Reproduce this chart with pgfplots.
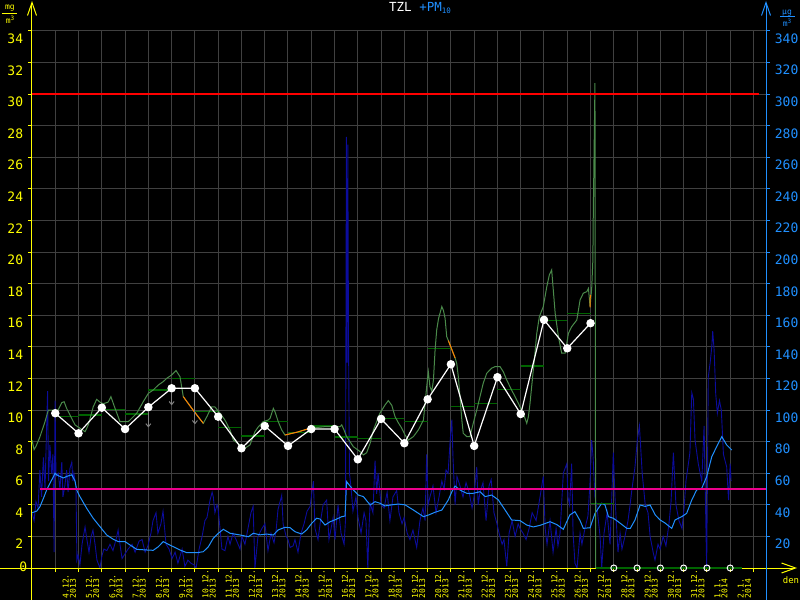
\documentclass[border=0pt]{standalone}
\usepackage{fontspec}
\usepackage{pgfplots}
\pgfplotsset{compat=1.18}
\usetikzlibrary{arrows.meta}
\newfontfamily\pix{DejaVu Sans Mono}

\definecolor{ylw}{HTML}{FFFF00}
\definecolor{pmblue}{HTML}{2090FF}
\definecolor{pmdark}{HTML}{0C0C9C}
\definecolor{tzlgreen}{HTML}{4A8A4A}
\definecolor{daygreen}{HTML}{006400}
\definecolor{gridc}{HTML}{404040}
\definecolor{orng}{HTML}{FF8000}
\definecolor{arrgray}{HTML}{808080}

\pgfplotsset{
  chartbase/.style={
    at={(0pt,0pt)}, anchor=south west,
    scale only axis, width=734pt, height=537pt,
    xmin=0, xmax=31.54,
    axis line style={draw=none},
    tick align=outside, major tick length=4pt,
    every tick/.append style={line width=1pt},
    /pgf/number format/assume math mode=true,
    tick label style={font=\pix\fontsize{13}{13}\selectfont, inner sep=0pt},
  },
}

\begin{document}
\begin{tikzpicture}
\fill[black] (-32pt,-32pt) rectangle (768pt,568pt);

% PM10 axis (right, ug/m3)
\begin{axis}[chartbase,
  ymin=0, ymax=340,
  xtick={1,...,31}, xticklabels={}, xtick pos=left,
  ytick={20,40,...,340}, ytick pos=right, yticklabel pos=right,
  grid=major, major grid style={gridc, line width=1pt},
  x tick style={ylw}, y tick style={pmblue},
  yticklabel style={text=pmblue, anchor=north west, xshift=4.7pt, yshift=-2.5pt},
  extra x ticks={1.5,2.5,...,30.5},
  extra x tick labels={4.12.\\2013,5.12.\\2013,6.12.\\2013,7.12.\\2013,8.12.\\2013,9.12.\\2013,10.12.\\2013,11.12.\\2013,12.12.\\2013,13.12.\\2013,14.12.\\2013,15.12.\\2013,16.12.\\2013,17.12.\\2013,18.12.\\2013,19.12.\\2013,20.12.\\2013,21.12.\\2013,22.12.\\2013,23.12.\\2013,24.12.\\2013,25.12.\\2013,26.12.\\2013,27.12.\\2013,28.12.\\2013,29.12.\\2013,30.12.\\2013,31.12.\\2013,1.1.\\2014,2.1.\\2014},
  extra x tick style={grid=none, major tick length=0pt,
    xticklabel style={xshift=2.5pt, yshift=-30.5pt, rotate=90, anchor=west, align=left, text=ylw, font=\pix\fontsize{8}{7.2}\selectfont}},
]
% PM10 raw
\addplot[pmdark, line width=0.9pt] coordinates {
(0.00,35) (0.09,30) (0.17,42) (0.26,38) (0.34,62) (0.41,45) (0.49,70) (0.56,50) (0.63,90) (0.67,112)
(0.71,55) (0.77,78) (0.84,60) (0.90,72) (0.95,10) (0.99,106) (1.03,58) (1.13,60) (1.20,50) (1.28,67)
(1.33,45) (1.42,53) (1.49,62) (1.55,48) (1.63,63) (1.71,67) (1.76,55) (1.80,60) (1.89,51) (1.93,5)
(1.98,8) (2.06,2) (2.15,15) (2.28,26) (2.36,18) (2.45,10) (2.54,20) (2.62,24) (2.71,15) (2.79,5)
(2.92,0) (3.01,8) (3.09,12) (3.22,11) (3.35,15) (3.48,11) (3.61,18) (3.70,24) (3.78,15) (3.87,6)
(4.00,9) (4.13,12) (4.30,15) (4.43,10) (4.60,17) (4.73,18) (4.86,10) (4.98,14) (5.11,22) (5.20,30)
(5.33,35) (5.41,22) (5.54,28) (5.63,36) (5.76,15) (5.89,12) (6.02,6) (6.15,10) (6.27,3) (6.45,12)
(6.57,1) (6.70,5) (6.83,3) (6.96,2) (7.05,0) (7.18,12) (7.31,20) (7.43,30) (7.52,32) (7.65,43)
(7.74,48) (7.79,45) (7.86,35) (7.95,40) (7.99,38) (8.08,25) (8.16,12) (8.29,11) (8.42,20) (8.51,15)
(8.64,22) (8.77,18) (8.94,12) (9.02,20) (9.15,15) (9.28,25) (9.41,35) (9.50,39) (9.58,0) (9.71,20)
(9.88,25) (10.01,28) (10.14,11) (10.27,22) (10.40,16) (10.49,24) (10.57,37) (10.73,46) (10.79,28) (10.92,20)
(11.00,18) (11.09,13) (11.22,14) (11.30,18) (11.43,10) (11.56,22) (11.69,28) (11.82,36) (11.95,39) (12.09,55)
(12.16,25) (12.29,18) (12.38,28) (12.51,40) (12.66,43) (12.76,18) (12.94,32) (13.02,18) (13.15,40) (13.28,22)
(13.41,15) (13.47,30) (13.51,273) (13.54,130) (13.57,268) (13.60,146) (13.64,60) (13.71,51) (13.79,36) (13.92,45)
(14.01,32) (14.14,22) (14.27,35) (14.35,30) (14.43,0) (14.48,25) (14.53,41) (14.65,35) (14.74,68) (14.81,47)
(14.87,60) (15.00,40) (15.13,38) (15.26,48) (15.38,30) (15.51,45) (15.67,49) (15.77,35) (15.90,28) (15.99,32)
(16.12,22) (16.24,18) (16.37,24) (16.53,13) (16.67,30) (16.80,38) (16.89,30) (16.96,72) (17.02,40) (17.10,45)
(17.23,52) (17.36,35) (17.49,45) (17.61,55) (17.71,50) (17.79,62) (17.88,60) (17.96,79) (18.04,94) (18.09,70)
(18.18,40) (18.26,58) (18.39,52) (18.52,45) (18.65,54) (18.78,48) (18.91,38) (18.99,45) (19.11,64) (19.17,40)
(19.25,48) (19.38,54) (19.51,30) (19.64,52) (19.73,56) (19.85,35) (19.98,28) (20.07,22) (20.20,15) (20.28,18)
(20.40,1) (20.50,22) (20.63,30) (20.76,20) (20.89,28) (20.97,25) (21.10,22) (21.23,18) (21.36,25) (21.49,35)
(21.66,30) (21.83,45) (21.97,58) (22.05,25) (22.13,15) (22.26,30) (22.39,10) (22.52,25) (22.60,14) (22.69,22)
(22.83,60) (22.98,66) (23.03,45) (23.10,40) (23.19,66) (23.25,22) (23.33,3) (23.42,0) (23.55,22) (23.63,15)
(23.76,25) (23.89,33) (23.98,55) (24.05,81) (24.11,70) (24.19,45) (24.28,38) (24.41,20) (24.48,0) (24.58,22)
(24.71,35) (24.84,15) (24.98,73) (25.05,45) (25.18,10) (25.27,22) (25.35,12) (25.48,20) (25.61,30) (25.70,40)
(25.78,50) (25.91,64) (26.01,81) (26.10,90) (26.22,60) (26.35,40) (26.47,35) (26.56,20) (26.69,10) (26.77,5)
(26.90,15) (26.99,12) (27.12,20) (27.24,14) (27.37,28) (27.46,42) (27.56,73) (27.67,40) (27.80,30) (27.93,25)
(28.02,38) (28.10,55) (28.27,73) (28.35,111) (28.42,107) (28.49,81) (28.63,66) (28.78,55) (28.88,90) (28.99,0)
(29.06,121) (29.14,130) (29.21,140) (29.25,150) (29.31,138) (29.38,110) (29.45,98) (29.54,106) (29.62,100) (29.71,72)
(29.78,68) (29.85,64) (29.93,43) (30.00,66) (30.04,55)
};
% PM10 smoothed
\addplot[pmblue, line width=1pt] coordinates {
(0,35) (0.2,36) (0.34,38.8) (0.49,44.1) (0.63,49.4) (0.77,53.6) (0.92,57.8) (0.99,60) (1.06,59) (1.2,58)
(1.35,57) (1.49,58) (1.71,59) (1.85,55) (1.92,49.4) (2.06,45.2) (2.35,37.8) (2.63,31.5) (2.92,26.2) (3.21,20.9)
(3.49,18.2) (3.71,16.7) (4.0,16.7) (4.21,14.6) (4.5,11.8) (4.93,11.4) (5.21,11.2) (5.43,13.5) (5.64,16.7) (5.86,15)
(6.07,13.5) (6.36,11.4) (6.65,9.7) (7.08,9.7) (7.36,10.3) (7.58,13.5) (7.79,18.8) (8.01,22) (8.22,24.5) (8.51,22)
(8.94,20.9) (9.3,19.8) (9.51,22) (9.8,21) (10.09,21.5) (10.37,20.9) (10.58,24.1) (10.87,25.8) (11.09,25.5) (11.3,23)
(11.59,21.5) (11.8,24.1) (12.02,28.3) (12.23,31.5) (12.38,31) (12.59,27.2) (12.81,29.3) (13.02,30.5) (13.31,32.5) (13.45,32.9)
(13.52,54.7) (13.66,52) (13.81,49.4) (14.02,46.2) (14.24,45.2) (14.53,39.9) (14.74,42) (14.95,41) (15.17,39.3) (15.46,40)
(15.74,40.5) (16.03,40) (16.39,36.7) (16.82,32.5) (17.03,33.5) (17.32,35.3) (17.61,36.7) (17.89,43.1) (18.04,48.3) (18.18,51.9)
(18.39,49.4) (18.68,47.3) (18.96,47.3) (19.25,48.3) (19.47,45.2) (19.75,46.2) (20.04,43.1) (20.33,36.7) (20.61,30.4) (20.97,30)
(21.26,27.2) (21.54,26) (21.83,27) (22.26,29.3) (22.55,27.5) (22.83,24.5) (23.11,33.6) (23.33,35.7) (23.55,30) (23.69,25.1)
(23.98,25.5) (24.19,34.6) (24.48,41) (24.62,40) (24.77,32.5) (24.98,31.5) (25.19,29.3) (25.56,25.1) (25.71,25.1) (25.91,30.4)
(26.13,39.9) (26.35,39) (26.56,39.9) (26.78,33.6) (26.99,30.4) (27.2,28.5) (27.49,25.1) (27.63,30.4) (27.92,32.5) (28.13,34.6)
(28.35,43.1) (28.56,49.4) (28.78,50.5) (28.99,57.8) (29.21,70.5) (29.42,76.8) (29.64,83.2) (29.85,77.9) (30.07,74.7)
};
\end{axis}

% TZL axis (left, mg/m3)
\begin{axis}[chartbase,
  ymin=0, ymax=34, clip=false,
  xtick=\empty, ytick={2,4,...,34}, ytick pos=left,
  y tick style={ylw},
  yticklabel style={text=ylw, anchor=north east, xshift=-4.7pt, yshift=-2.7pt},
]
% axis lines
\draw[ylw, line width=1pt, -{Straight Barb[length=13pt,width=9pt]}]
  ([yshift=-32pt]rel axis cs:0,0) -- ([yshift=30pt]rel axis cs:0,1);
\draw[ylw, line width=1pt, -{Straight Barb[length=14pt,width=10pt]}]
  ([xshift=-32pt]rel axis cs:0,0) -- ([xshift=31pt]rel axis cs:1,0);
\draw[pmblue, line width=1pt, -{Straight Barb[length=13pt,width=9pt]}]
  ([yshift=-32pt]rel axis cs:1,0) -- ([yshift=30pt]rel axis cs:1,1);

% PM10 limit (50 ug/m3 = 5 on this scale)
\addplot[magenta, line width=2.2pt] coordinates {(0.34,5) (31.54,5)};

% daily means
\addplot[daygreen, line width=1.2pt, unbounded coords=jump] coordinates {
(1,9.58) (2,9.58) (2,nan) (2,9.69) (3,9.69) (3,nan) (3,10.05) (4,10.05) (4,nan)
(4,9.75) (5,9.75) (5,nan) (5,11.27) (6,11.27) (6,nan) (6,12.01) (7,12.01) (7,nan)
(7,9.9) (8,9.9) (8,nan) (8,8.91) (9,8.91) (9,nan) (9,8.36) (10,8.36) (10,nan)
(10,9.3) (11,9.3) (11,nan) (11,8.6) (12,8.6) (12,nan) (12,8.99) (13,8.99) (13,nan)
(13,8.3) (14,8.3) (14,nan) (14,8.21) (15,8.21) (15,nan) (15,9.48) (16,9.48) (16,nan)
(16,9.3) (17,9.3) (17,nan) (17,13.91) (18,13.91) (18,nan) (18,10.24) (19,10.24) (19,nan)
(19,10.43) (20,10.43) (20,nan) (20,11.32) (21,11.32) (21,nan) (21,12.79) (22,12.79) (22,nan)
(22,15.66) (23,15.66) (23,nan) (23,16.13) (24,16.13) (24,nan) (24,4.1) (25,4.1)
};
\addplot[daygreen, line width=1.2pt] coordinates {(24.22,0) (30.5,0)};

% TZL
\addplot[tzlgreen, line width=1pt] coordinates {
(0,8.1) (0.09,7.5) (0.17,7.7) (0.34,8.3) (0.56,9.27) (0.70,10.0) (0.99,10.0) (1.12,10.0) (1.28,10.47) (1.38,10.53)
(1.49,10.1) (1.63,9.69) (1.85,9.06) (2.06,8.85) (2.28,8.63) (2.42,9.06) (2.63,10.2) (2.78,10.68) (2.92,10.5) (3.06,10.4)
(3.27,10.5) (3.39,10.85) (3.57,10.1) (3.78,9.27) (4.14,9.27) (4.30,9.5) (4.50,9.8) (4.78,10.53) (5.00,11.06) (5.21,11.27)
(5.43,11.59) (5.64,11.8) (5.79,12.01) (6.00,12.22) (6.19,12.5) (6.36,12.11) (6.50,10.85) (6.92,10.0) (7.36,9.16) (7.52,9.6)
(7.72,10.2) (7.86,10.2) (8.08,9.8) (8.29,9.37) (8.51,8.74) (8.65,8.1) (8.94,7.79) (9.15,7.58) (9.37,7.8) (9.58,8.63)
(9.73,8.95) (9.94,9.27) (10.15,9.37) (10.23,9.48) (10.37,10.11) (10.44,9.9) (10.58,9.27) (10.73,8.74) (10.87,8.42) (11.39,8.6)
(11.95,8.85) (12.59,8.95) (13.24,8.95) (13.31,9.06) (13.39,8.8) (13.52,8.32) (13.81,7.68) (14.10,7.37) (14.24,7.16) (14.38,7.3)
(14.53,7.9) (14.67,8.74) (14.95,9.8) (15.17,10.32) (15.31,10.6) (15.46,10.3) (15.60,9.58) (15.74,9.2) (15.89,8.85) (16.03,8.42)
(16.17,8.1) (16.39,8.32) (16.60,8.74) (16.82,9.37) (16.89,10.43) (16.96,11.48) (17.03,12.43) (17.10,11.48) (17.18,11.2) (17.25,11.9)
(17.32,13.8) (17.39,15.07) (17.47,15.8) (17.61,16.55) (17.68,16.3) (17.75,15.81) (17.82,14.65) (17.89,14.4) (18.18,13.3) (18.25,12.96)
(18.32,12.11) (18.39,10.85) (18.47,9.37) (18.53,8.53) (18.68,8.32) (18.82,8.32) (18.96,9.16) (19.11,10.0) (19.25,10.85) (19.39,11.7)
(19.54,12.33) (19.75,12.65) (19.90,12.75) (20.11,12.75) (20.25,12.43) (20.40,11.9) (20.61,11.27) (20.83,10.64) (20.97,10.21) (21.11,9.8)
(21.26,9.16) (21.33,9.58) (21.40,10.43) (21.47,11.48) (21.57,12.96) (21.69,14.86) (21.80,15.91) (21.97,16.55) (22.12,17.81) (22.23,18.56)
(22.33,18.87) (22.40,17.6) (22.48,16.13) (22.62,14.65) (22.76,13.6) (22.91,13.6) (23.05,14.86) (23.19,15.28) (23.41,15.7) (23.55,16.97)
(23.69,17.4) (23.84,17.5) (23.91,17.7) (23.98,16.55) (24.05,17.7) (24.10,19.5) (24.12,22.7) (24.15,26) (24.19,30.7) (24.22,0)
};
% interpolated parts
\addplot[orng, line width=1pt, unbounded coords=jump] coordinates {
(6.50,10.85) (6.92,10.0) (7.36,9.16) (7.36,nan)
(10.87,8.42) (11.39,8.6) (11.95,8.85) (11.95,nan)
(17.89,14.4) (18.18,13.3) (18.18,nan)
(23.98,16.5) (23.99,17.3)
};

% daily values
\addplot[white, line width=1.2pt, mark=*, mark size=3.6pt, mark options={fill=white, draw=white}] coordinates {
(1,9.80) (2,8.53) (3,10.15) (4,8.80) (5,10.18) (6,11.38) (7,11.38) (8,9.58) (9,7.58) (10,8.99)
(11,7.73) (12,8.80) (13,8.80) (14,6.88) (15,9.44) (16,7.90) (17,10.68) (18,12.90) (19,7.73) (20,12.08)
(21,9.75) (22,15.71) (23,13.91) (24,15.50)
};
\addplot[arrgray, line width=1pt,
  quiver={u=\thisrow{u}, v=\thisrow{v},
    every arrow/.append style={-{Straight Barb[length=3pt,width=5pt]}}}]
  table {
x y u v
5 9.9 0 -1.0
6 11.1 0 -0.8
7 11.1 0 -2.0
};
\addplot[only marks, white, mark=o, mark size=3pt, line width=1pt] coordinates {
(25,0) (26,0) (27,0) (28,0) (29,0) (30,0)
};

% limit 30 mg/m3
\addplot[red, line width=2.4pt] coordinates {(0,30) (31.24,30)};
\end{axis}

% labels around the plot
\node[ylw, anchor=east, inner sep=0pt, font=\pix\fontsize{13}{13}\selectfont] at (-4.7pt,1.3pt) {0};
\node[ylw, inner sep=0pt, font=\pix\fontsize{9}{9}\selectfont] at (759pt,-12pt) {den};

\node[ylw, inner sep=0pt, font=\pix\fontsize{8}{8}\selectfont] at (-22pt,560pt) {mg};
\draw[ylw, line width=0.8pt] (-30pt,554.7pt) -- (-15pt,554.7pt);
\node[ylw, inner sep=0pt, font=\pix\fontsize{8}{8}\selectfont] at (-22pt,548pt) {m\raisebox{2.5pt}{\fontsize{6}{6}\selectfont 3}};

\node[pmblue, inner sep=0pt, font=\pix\fontsize{8}{8}\selectfont] at (755pt,555pt) {μg};
\draw[pmblue, line width=0.8pt] (748pt,551.3pt) -- (763pt,551.3pt);
\node[pmblue, inner sep=0pt, font=\pix\fontsize{8}{8}\selectfont] at (755pt,545pt) {m\raisebox{2.5pt}{\fontsize{6}{6}\selectfont 3}};

\node[inner sep=0pt, font=\pix\fontsize{12.5}{12.5}\selectfont] at (388pt,559.5pt)
  {\textcolor{white}{TZL} \textcolor{pmblue}{+PM\raisebox{-2pt}{\fontsize{7.5}{7.5}\selectfont 10}}};

\pgfresetboundingbox
\path[use as bounding box] (-32pt,-32pt) rectangle (768pt,568pt);
\end{tikzpicture}
\end{document}
